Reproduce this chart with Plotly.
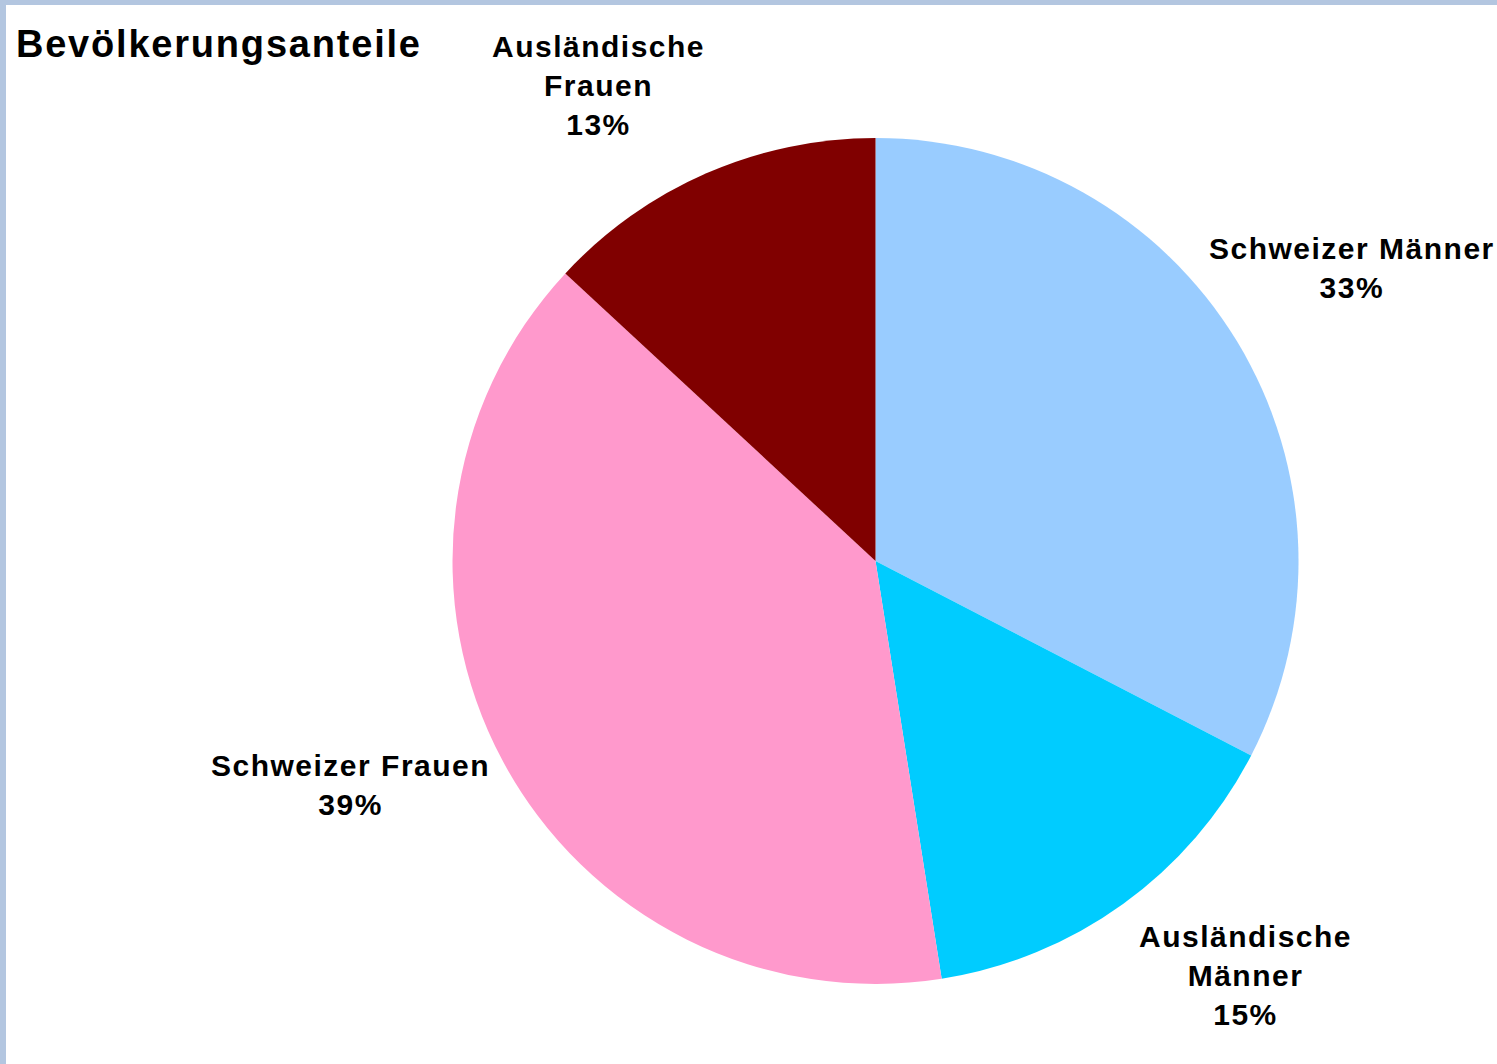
import plotly.graph_objects as go

# Data
categories = ["Schweizer Männer", "Ausländische Männer", "Schweizer Frauen", "Ausländische Frauen"]
values = [32.6, 14.9, 39.4, 13.1]
display_labels = ["Schweizer Männer", "Ausländische<br>Männer", "Schweizer Frauen", "Ausländische<br>Frauen"]
colors = ["#99CCFF", "#00CCFF", "#FF99CC", "#800000"]

W, H = 1497, 1064
# Label block centres in pixels (layout only)
label_pos = [(1352, 268), (1245, 975), (350, 785), (598, 86)]

total = sum(values)

fig = go.Figure()
cx, cy, r = 875.5, 561, 423
fig.add_trace(go.Pie(
    labels=categories,
    values=values,
    sort=False,
    direction="clockwise",
    rotation=0,
    marker=dict(colors=colors, line=dict(width=0)),
    textinfo="none",
    hoverinfo="label+percent",
    showlegend=False,
    domain=dict(x=[(cx - r) / W, (cx + r) / W], y=[1 - (cy + r) / H, 1 - (cy - r) / H]),
))

annotations = []
for lab, v, (px, py) in zip(display_labels, values, label_pos):
    annotations.append(dict(
        text=f"{lab}<br>{v / total * 100:.0f}%",
        x=px / W, y=1 - py / H, xref="paper", yref="paper",
        xanchor="center", yanchor="middle", showarrow=False,
        align="center",
        font=dict(family="Liberation Sans, Arial, sans-serif", size=30, color="black", weight="bold"),
    ))
annotations.append(dict(
    text="Bevölkerungsanteile",
    x=31 / W, y=1 - 44 / H, xref="paper", yref="paper",
    xanchor="left", yanchor="middle", showarrow=False,
    font=dict(family="Liberation Sans, Arial, sans-serif", size=38, color="black", weight="bold"),
))

fig.update_layout(
    width=W, height=H,
    margin=dict(l=0, r=0, t=0, b=0),
    paper_bgcolor="#B3C6E0",
    annotations=annotations,
    shapes=[dict(type="rect", xref="paper", yref="paper",
                 x0=6 / W, x1=1, y0=0, y1=1 - 5 / H,
                 fillcolor="white", line=dict(width=0), layer="below")],
)

post = """
document.body.style.margin = '0';
document.querySelectorAll('.annotation-text').forEach(function(t) {
  if (t.textContent.indexOf('Bev') === 0) { t.style.letterSpacing = '1.8px'; }
  else { t.style.letterSpacing = '1.5px'; }
});
"""

fig.write_html("out.html", post_script=post, config={"displayModeBar": False})
